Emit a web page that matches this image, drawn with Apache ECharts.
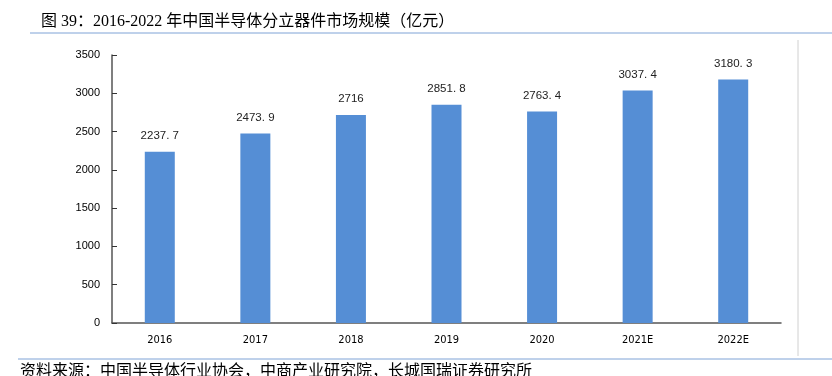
<!DOCTYPE html>
<html lang="zh">
<head>
    <meta charset="UTF-8">
    <title>分立器件市场规模</title>
    <script src="https://cdn.jsdelivr.net/npm/echarts@6/dist/echarts.min.js"></script>
    <style>
        html, body { margin: 0; padding: 0; background: #fff; }
        #box { width: 832px; height: 376px; }
    </style>
</head>
<body>
<div id="box"></div>
<script>
    // 数据
    var years = ['2016', '2017', '2018', '2019', '2020', '2021E', '2022E'];
    var scale = [2237.7, 2473.9, 2716, 2851.8, 2763.4, 3037.4, 3180.3];
    var yTicks = [0, 500, 1000, 1500, 2000, 2500, 3000, 3500];

    var myChart = echarts.init(document.getElementById('box'));
    var option = {
        animation: false,
        title: {
            text: '图 39：2016-2022 年中国半导体分立器件市场规模（亿元）',
            left: 36,
            top: 9,
            textStyle: {
                fontFamily: '"Liberation Serif", "Noto Sans CJK SC"',
                fontSize: 16,
                fontWeight: 'normal',
                color: '#000'
            }
        },
        graphic: [
            { type: 'line', shape: { x1: 30, y1: 33, x2: 832, y2: 33 }, style: { stroke: '#7fa3d6', lineWidth: 1 } },
            { type: 'line', shape: { x1: 798, y1: 40, x2: 798, y2: 356 }, style: { stroke: '#d0d0d0', lineWidth: 1 } },
            { type: 'line', shape: { x1: 18, y1: 359, x2: 832, y2: 359 }, style: { stroke: '#7fa3d6', lineWidth: 1 } },
            {
                type: 'text', left: 20, top: 362,
                style: {
                    text: '资料来源：中国半导体行业协会，中商产业研究院，长城国瑞证券研究所',
                    font: '16px "Noto Sans CJK SC"', fill: '#000'
                }
            }
        ],
        grid: { left: 112, right: 51, top: 55, bottom: 53 },
        xAxis: {
            type: 'category',
            data: years,
            axisLine: { lineStyle: { color: '#555', width: 1.5 } },
            axisTick: { inside: true, length: 5, lineStyle: { color: '#333' } },
            axisLabel: { color: '#000', fontSize: 11, fontFamily: '"Liberation Sans Narrow", "DejaVu Sans Condensed", sans-serif', margin: 12 }
        },
        yAxis: {
            type: 'value',
            min: 0,
            max: 3500,
            interval: 500,
            axisLine: { show: true, lineStyle: { color: '#555', width: 1.5 } },
            axisTick: { show: true, inside: true, length: 5, lineStyle: { color: '#333' } },
            splitLine: { show: false },
            axisLabel: {
                color: '#000', fontSize: 11, fontFamily: '"Liberation Sans", Arial, sans-serif', margin: 12,
                formatter: function (v) { return yTicks.indexOf(v) >= 0 ? String(v) : ''; }
            }
        },
        series: [{
            type: 'bar',
            data: scale,
            barWidth: 30,
            itemStyle: { color: '#558ed5' },
            label: {
                show: true,
                position: 'top',
                distance: 10,
                color: '#222',
                fontSize: 11.5,
                fontFamily: '"Liberation Sans", Arial, sans-serif',
                formatter: function (p) { return String(p.value).replace('.', '. '); }
            }
        }]
    };
    myChart.setOption(option, true);
</script>
</body>
</html>
